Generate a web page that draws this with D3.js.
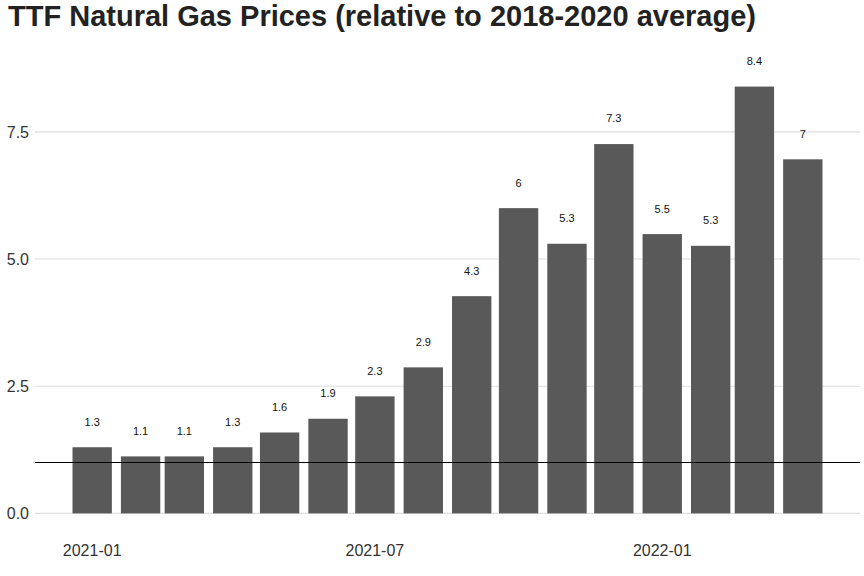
<!DOCTYPE html>
<html>
<head>
<meta charset="utf-8">
<script src="https://cdn.jsdelivr.net/npm/d3@7"></script>
<style>
  body { margin: 0; background: #fff; }
  text { font-family: "Liberation Sans", Arial, sans-serif; }
</style>
</head>
<body>
<div id="chart"></div>
<script>
// Data: monthly TTF price relative to 2018-2020 average
const months = ["2021-01", "2021-02", "2021-03", "2021-04", "2021-05", "2021-06", "2021-07", "2021-08",
  "2021-09", "2021-10", "2021-11", "2021-12", "2022-01", "2022-02", "2022-03", "2022-04"];
const values = [1.30, 1.12, 1.12, 1.30, 1.59, 1.86, 2.30, 2.87, 4.27, 6.00, 5.30, 7.26, 5.49, 5.26, 8.39, 6.96];
const xTicks = ["2021-01", "2021-07", "2022-01"];
const yTicks = [0, 2.5, 5, 7.5];
const refLine = 1;

const w = 864;
const h = 576;
const padL = 35, padR = 860, padT = 38, padB = 536;

const parse = d3.timeParse("%Y-%m");
const data = months.map((m, i) => ({ date: parse(m), value: values[i] }));
const DAY = 864e5;

// bar width like ggplot: 0.9 * smallest gap (28 days)
const barDays = 0.9 * 28;
const x0 = +data[0].date - barDays / 2 * DAY;
const x1 = +data[data.length - 1].date + barDays / 2 * DAY;
const pad = (x1 - x0) * 0.05;

const xScale = d3.scaleTime()
  .domain([new Date(x0 - pad), new Date(x1 + pad)])
  .range([padL, padR]);

const yScale = d3.scaleLinear()
  .domain([-0.445, 9.345])
  .range([padB, padT]);

const svg = d3.select("#chart")
  .append("svg")
  .attr("width", w)
  .attr("height", h);

// Title
svg.append("text")
  .attr("x", 8)
  .attr("y", 26)
  .style("font-size", "29px")
  .style("font-weight", "bold")
  .style("fill", "#222")
  .text("TTF Natural Gas Prices (relative to 2018-2020 average)");

// Gridlines
svg.selectAll("line.grid")
  .data(yTicks)
  .enter()
  .append("line")
  .attr("class", "grid")
  .attr("x1", padL)
  .attr("x2", padR)
  .attr("y1", d => yScale(d))
  .attr("y2", d => yScale(d))
  .style("stroke", "#dedede")
  .style("stroke-width", 1.1);

// Y axis labels
svg.selectAll("text.ytick")
  .data(yTicks)
  .enter()
  .append("text")
  .attr("class", "ytick")
  .attr("x", 29)
  .attr("y", d => yScale(d))
  .attr("dy", "0.36em")
  .attr("text-anchor", "end")
  .style("font-size", "16px")
  .style("fill", "#333")
  .text(d => d3.format(".1f")(d));

// X axis labels
svg.selectAll("text.xtick")
  .data(xTicks)
  .enter()
  .append("text")
  .attr("class", "xtick")
  .attr("x", d => xScale(parse(d)))
  .attr("y", 556)
  .attr("text-anchor", "middle")
  .style("font-size", "16px")
  .style("fill", "#333")
  .text(d => d);

// Bars
const bw = xScale(new Date(+data[0].date + barDays * DAY)) - xScale(data[0].date);
svg.selectAll("rect.bar")
  .data(data)
  .enter()
  .append("rect")
  .attr("class", "bar")
  .attr("x", d => xScale(d.date) - bw / 2)
  .attr("y", d => yScale(d.value))
  .attr("width", bw)
  .attr("height", d => yScale(0) - yScale(d.value))
  .style("fill", "#595959");

// Bar labels
svg.selectAll("text.lbl")
  .data(data)
  .enter()
  .append("text")
  .attr("class", "lbl")
  .attr("x", d => xScale(d.date))
  .attr("y", d => yScale(d.value + 0.5))
  .attr("dy", "0.35em")
  .attr("text-anchor", "middle")
  .style("font-size", "11px")
  .style("fill", "#111")
  .text(d => String(Math.round(d.value * 10) / 10));

// Reference line at 1
svg.append("line")
  .attr("x1", padL)
  .attr("x2", padR)
  .attr("y1", yScale(refLine))
  .attr("y2", yScale(refLine))
  .style("stroke", "#000")
  .style("stroke-width", 1.1);
</script>
</body>
</html>
